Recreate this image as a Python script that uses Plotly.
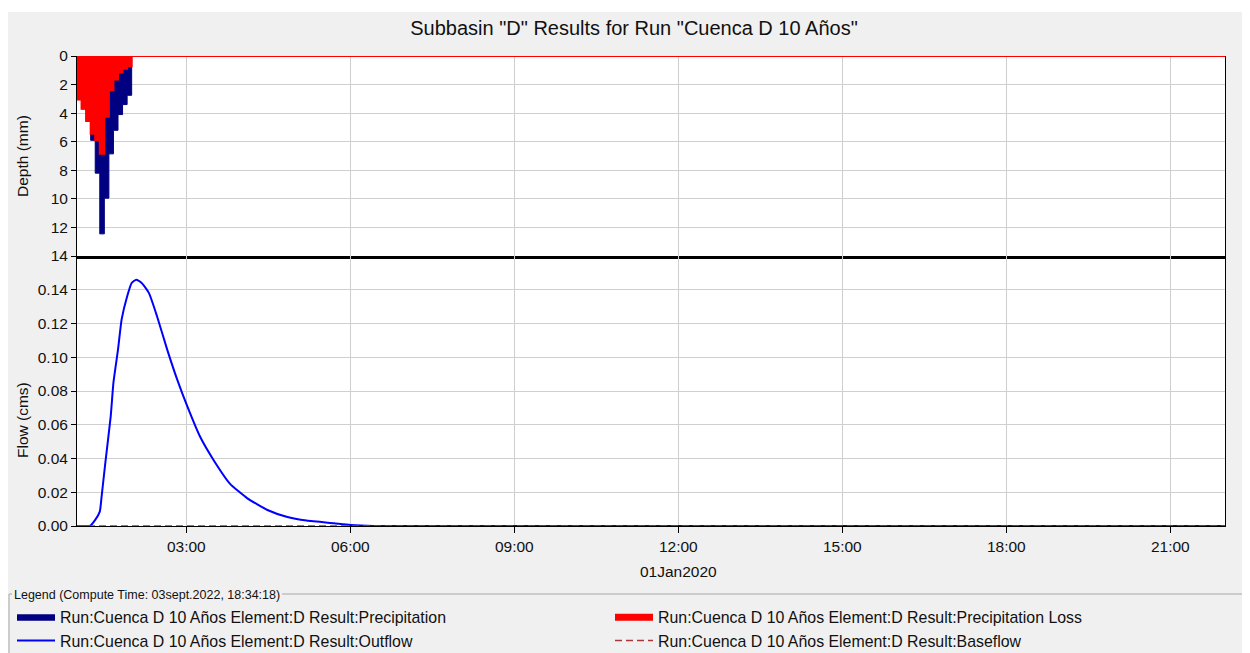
import plotly.graph_objects as go

DAY = "2020-01-01 "

# ---------------- data ----------------
run_start = "01:00"
run_end = "22:00"
storm_end = "02:00"

precip_times = ["01:00", "01:05", "01:10", "01:15", "01:20", "01:25",
                "01:30", "01:35", "01:40", "01:45", "01:50", "01:55"]
precip_mm = [3.05, 3.70, 4.55, 5.90, 8.20, 12.45, 9.95, 6.85, 5.20, 4.10, 3.40, 2.75]
loss_mm = [3.05, 3.70, 4.55, 5.45, 5.90, 6.85, 4.25, 2.40, 1.65, 1.15, 0.90, 0.72]

outflow_times = ["01:00", "01:14", "01:20", "01:25", "01:27", "01:31", "01:37", "01:40",
                 "01:45", "01:49", "01:55", "02:00", "02:05", "02:11", "02:19", "02:28",
                 "02:39", "02:50", "03:01", "03:15", "03:30", "03:48", "04:07", "04:29",
                 "04:50", "05:12", "05:42", "06:00", "06:25", "22:00"]
outflow_cms = [0.0, 0.0, 0.0036, 0.0085, 0.0174, 0.037, 0.065, 0.085,
               0.1045, 0.1224, 0.136, 0.144, 0.146, 0.144, 0.138, 0.124,
               0.1045, 0.0867, 0.071, 0.053, 0.039, 0.025, 0.0164, 0.0095,
               0.0055, 0.0032, 0.0016, 0.0006, 0.0, 0.0]

baseflow_times = ["01:00", "22:00"]
baseflow_cms = [0.0, 0.0]

depth_ticks = [0, 2, 4, 6, 8, 10, 12, 14]
flow_ticks = [0.0, 0.02, 0.04, 0.06, 0.08, 0.10, 0.12, 0.14]
time_ticks = ["03:00", "06:00", "09:00", "12:00", "15:00", "18:00", "21:00"]

series_prefix = "Run:Cuenca D 10 Años Element:D Result:"
title_text = 'Subbasin "D" Results for Run "Cuenca D 10 Años"'
legend_caption = "Legend (Compute Time: 03sept.2022, 18:34:18)"
date_label = "01Jan2020"

# ---------------- figure geometry ----------------
FONT = "Liberation Sans, Arial, sans-serif"
OFF = 8                      # page body margin
W, H = 1250, 680
ML, MR, MT = 69, 33, 48
MB = H - 518
PW, PH = W - ML - MR, H - MT - MB


def px_x(sx):
    """screen x pixel -> paper x"""
    return (sx - OFF - ML) / PW


def px_y(sy):
    """screen y pixel -> paper y"""
    return (H - MB - (sy - OFF)) / PH


split = px_y(256)

step_x = [DAY + t for t in precip_times] + [DAY + storm_end, DAY + run_end]

fig = go.Figure()
fig.add_trace(go.Scatter(
    x=step_x, y=precip_mm + [0, 0], mode="lines", line_shape="hv",
    fill="tozeroy", fillcolor="#000080", line=dict(color="#000080", width=1),
    name=series_prefix + "Precipitation", xaxis="x", yaxis="y"))
fig.add_trace(go.Scatter(
    x=step_x, y=loss_mm + [0, 0], mode="lines", line_shape="hv",
    fill="tozeroy", fillcolor="#ff0000", line=dict(color="#ff0000", width=2),
    name=series_prefix + "Precipitation Loss", xaxis="x", yaxis="y"))
fig.add_trace(go.Scatter(
    x=[DAY + t for t in outflow_times], y=outflow_cms, mode="lines",
    line=dict(color="#0000ff", width=2, shape="spline", smoothing=0.5),
    name=series_prefix + "Outflow", xaxis="x2", yaxis="y2"))
fig.add_trace(go.Scatter(
    x=[DAY + t for t in baseflow_times], y=baseflow_cms, mode="lines",
    line=dict(color="#a83838", width=1.5, dash="7px,4px"),
    name=series_prefix + "Baseflow", xaxis="x2", yaxis="y2"))

grid = "#cfcfcf"
tickfont = dict(family=FONT, size=15.5, color="#111111")
xr = [DAY + run_start, DAY + run_end]
tv = [DAY + t for t in time_ticks]

fig.update_layout(
    width=W, height=H,
    paper_bgcolor="#f0f0f0", plot_bgcolor="white",
    margin=dict(l=ML, r=MR, t=MT, b=MB, autoexpand=False),
    font=dict(family=FONT, color="#111111"),
    title=dict(text=title_text, x=(634 - OFF) / W, xref="container", xanchor="center",
               y=1 - (28 - OFF) / H, yref="container", yanchor="middle",
               font=dict(family=FONT, size=20, color="#111111")),
    xaxis=dict(domain=[0, 1], anchor="y", type="date", range=xr, matches="x2",
               tickmode="array", tickvals=tv, showticklabels=False, ticks="",
               showgrid=True, gridcolor=grid, showline=True, linecolor="black",
               linewidth=2.5, zeroline=False),
    yaxis=dict(domain=[split, 1], anchor="x", range=[14, 0], tickmode="array",
               tickvals=depth_ticks, ticks="outside", ticklen=5, tickcolor="black",
               showline=True, linecolor="black", linewidth=1, mirror=True,
               showgrid=True, gridcolor=grid, zeroline=False, tickfont=tickfont),
    xaxis2=dict(domain=[0, 1], anchor="y2", type="date", range=xr,
                tickmode="array", tickvals=tv, tickformat="%H:%M",
                ticks="outside", ticklen=6, tickcolor="black",
                showgrid=True, gridcolor=grid, showline=True, linecolor="black",
                linewidth=1, zeroline=False, tickfont=tickfont),
    yaxis2=dict(domain=[0, split], anchor="x2", range=[0, 0.16], tickmode="array",
                tickvals=flow_ticks, tickformat=".2f", ticks="outside", ticklen=5,
                tickcolor="black", showline=True, linecolor="black", linewidth=1,
                mirror=True, showgrid=True, gridcolor=grid, zeroline=False,
                tickfont=tickfont),
    legend=dict(orientation="h", x=px_x(12), xanchor="left", y=px_y(600),
                yanchor="top", entrywidth=545, entrywidthmode="pixels",
                itemwidth=38,
                bgcolor="rgba(0,0,0,0)", font=dict(family=FONT, size=15.9, color="#111111"),
                tracegroupgap=0, traceorder="normal"),
    showlegend=True,
)

annotations = [
    dict(text="Depth (mm)", xref="paper", yref="paper", x=px_x(22), y=px_y(156),
         textangle=-90, showarrow=False, xanchor="center", yanchor="middle",
         font=dict(family=FONT, size=15.5, color="#111111")),
    dict(text="Flow (cms)", xref="paper", yref="paper", x=px_x(22), y=px_y(420),
         textangle=-90, showarrow=False, xanchor="center", yanchor="middle",
         font=dict(family=FONT, size=15.5, color="#111111")),
    dict(text=date_label, xref="x2", yref="paper", x=DAY + "12:00", y=px_y(571),
         showarrow=False, xanchor="center", yanchor="middle",
         font=dict(family=FONT, size=15.5, color="#111111")),
    dict(text=legend_caption, xref="paper", yref="paper", x=px_x(12), y=px_y(595),
         showarrow=False, xanchor="left", yanchor="middle",
         font=dict(family=FONT, size=12.5, color="#111111")),
]
fig.update_layout(annotations=annotations)

box = "#a8a8a8"
shapes = [
    dict(type="rect", xref="paper", yref="paper", x0=px_x(OFF), x1=px_x(W + OFF),
         y0=px_y(12), y1=px_y(OFF), fillcolor="white", line=dict(width=0), layer="below"),
    dict(type="line", xref="paper", yref="paper", x0=px_x(9), x1=px_x(12),
         y0=px_y(594), y1=px_y(594), line=dict(color=box, width=1)),
    dict(type="line", xref="paper", yref="paper", x0=px_x(282), x1=px_x(1245),
         y0=px_y(594), y1=px_y(594), line=dict(color=box, width=1)),
    dict(type="line", xref="paper", yref="paper", x0=px_x(9), x1=px_x(9),
         y0=px_y(594), y1=px_y(660), line=dict(color=box, width=1)),
]
fig.update_layout(shapes=shapes)

fig.write_html("out.html")
